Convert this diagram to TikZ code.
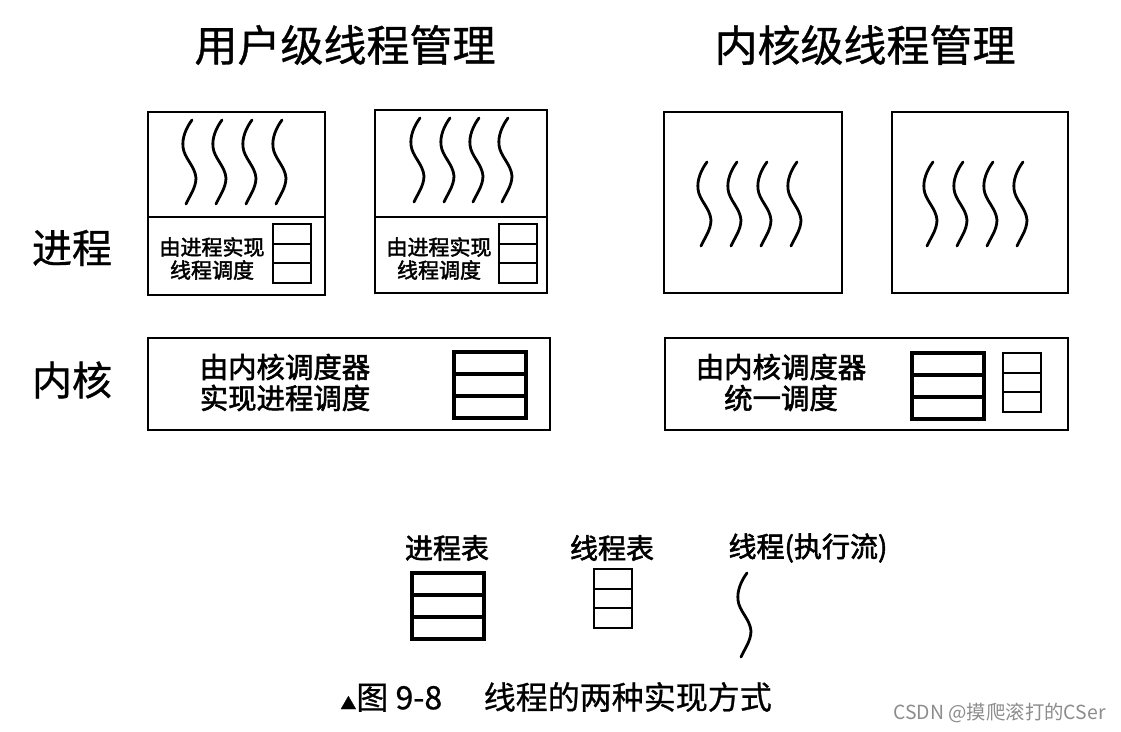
\documentclass[tikz,border=0pt]{standalone}
\usepackage{fontspec}
\setmainfont{Noto Sans CJK SC}
\newfontface\medfont{Noto Sans CJK SC}[FakeBold=0.8]
\newfontface\heavyfont{Noto Sans CJK SC}[FakeBold=2]
\usetikzlibrary{positioning}

\tikzset{
  frame/.style={draw, line width=1.1pt},
  threadline/.style={line width=1.4pt, line cap=round},
  proctab/.style={line width=1.6pt},
  thrtab/.style={line width=1.1pt},
  txt/.style={inner sep=0pt, align=center},
  thread/.pic={
    \draw[threadline] (0,0) .. controls (-6,8) and (-10,18) .. (-9,27)
      .. controls (-8,38) and (3,46) .. (4,58)
      .. controls (4,68) and (-3,77) .. (-6,84);
  },
  proctable/.pic={
    \draw[proctab] (0,0) rectangle (72,66);
    \draw[proctab] (0,22) -- (72,22) (0,44) -- (72,44);
  },
  thrtable/.pic={
    \draw[thrtab] (0,0) rectangle (38,59);
    \draw[thrtab] (0,20) -- (38,20) (0,39) -- (38,39);
  }
}

\begin{document}
\begin{tikzpicture}[x=0.5pt, y=-0.5pt]
  \useasboundingbox (0,0) rectangle (1121,732);

  % titles
  \node[txt, font=\medfont\fontsize{21.5}{22}\selectfont] (utitle) at (345,45) {用户级线程管理};
  \node[txt, font=\medfont\fontsize{21.5}{22}\selectfont] (ktitle) at (865,45) {内核级线程管理};

  % row labels
  \node[txt, font=\medfont\fontsize{20}{20}\selectfont] (lproc) at (72,248) {进程};
  \node[txt, font=\medfont\fontsize{20}{20}\selectfont] (lkern) at (72,380) {内核};

  % user-level processes
  \draw[frame] (148,112) rectangle (325,295);
  \draw[frame] (148,217) -- (325,217);
  \foreach \x in {192,222,252,282}
    \pic at (\x,120) {thread};
  \pic at (273,224) {thrtable};
  \node[txt, font=\heavyfont\fontsize{10.5}{11.5}\selectfont] (usched1) at (212,258.5) {由进程实现\\线程调度};

  \draw[frame] (375,110) rectangle (547,293);
  \draw[frame] (375,217) -- (547,217);
  \foreach \x in {420,450,479,508}
    \pic at (\x,118) {thread};
  \pic at (499,224) {thrtable};
  \node[txt, font=\heavyfont\fontsize{10.5}{11.5}\selectfont] (usched2) at (439,258.5) {由进程实现\\线程调度};

  % kernel-level processes
  \draw[frame] (664,112) rectangle (842,293);
  \foreach \x in {707,737,767,797}
    \pic at (\x,162) {thread};
  \draw[frame] (892,112) rectangle (1068,293);
  \foreach \x in {933,963,993,1023}
    \pic at (\x,162) {thread};

  % kernels
  \draw[frame] (148,338) rectangle (550,430);
  \node[txt, font=\heavyfont\fontsize{14.2}{15.5}\selectfont] (ksched1) at (285,382.5) {由内核调度器\\实现进程调度};
  \pic at (454,352) {proctable};

  \draw[frame] (665,338) rectangle (1068,430);
  \node[txt, font=\heavyfont\fontsize{14.2}{15.5}\selectfont] (ksched2) at (781,382.5) {由内核调度器\\统一调度};
  \pic at (912,353) {proctable};
  \pic at (1003,353) {thrtable};

  % legend
  \node[txt, font=\heavyfont\fontsize{14}{14}\selectfont] (lgproc) at (447,548) {进程表};
  \pic at (412,573) {proctable};
  \node[txt, font=\heavyfont\fontsize{14}{14}\selectfont] (lgthr) at (612,548) {线程表};
  \pic at (594,569) {thrtable};
  \node[txt, font=\heavyfont\fontsize{14}{14}\selectfont] (lgflow) at (808,548) {线程(执行流)};
  \pic at (747,573) {thread};

  % caption
  \node[txt, anchor=west, font=\medfont\fontsize{16}{16}\selectfont] (caption) at (340,697)
    {{\fontsize{8}{8}\selectfont ▲}图 9-8\hspace{1.3em}线程的两种实现方式};
  \node[txt, anchor=west, text=black!45, font=\fontsize{9.7}{10}\selectfont] (mark) at (893,713)
    {CSDN @摸爬滚打的CSer};
\end{tikzpicture}
\end{document}
